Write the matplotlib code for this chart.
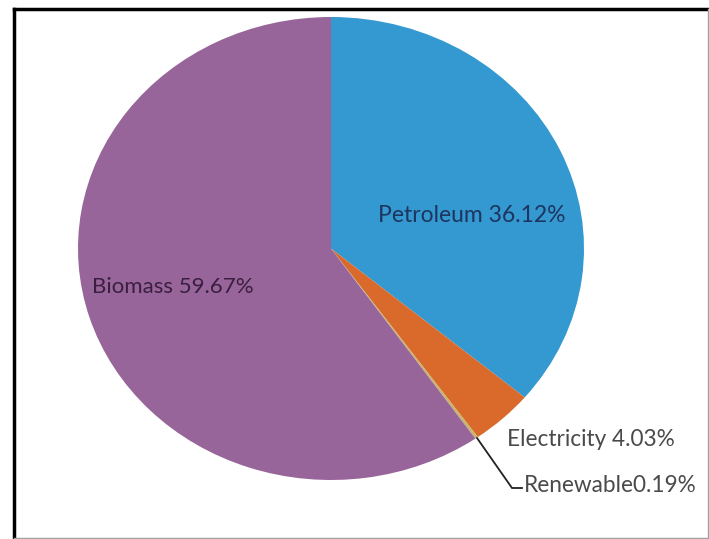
import matplotlib
matplotlib.use("Agg")
import matplotlib.pyplot as plt
from matplotlib.lines import Line2D

categories = ["Petroleum", "Electricity", "Renewable", "Biomass"]
shares = [36.12, 4.03, 0.19, 59.67]
colors = ["#3399D0", "#DA6A2C", "#C8B46A", "#976599"]

W, H = 709, 539
fig = plt.figure(figsize=(W / 100, H / 100), dpi=100)
fig.patch.set_facecolor("white")

# pie region in pixels (top-left origin)
cx, cy, rx, ry = 331, 248.5, 253, 231.5
ax = fig.add_axes([(cx - rx) / W, (H - (cy + ry)) / H, 2 * rx / W, 2 * ry / H])
ax.pie(shares, colors=colors, startangle=90, counterclock=False,
       radius=1, wedgeprops=dict(linewidth=0))
ax.set_aspect("auto")
ax.set_xlim(-1, 1)
ax.set_ylim(-1, 1)
ax.axis("off")

def d(px, py):
    return (px - cx) / rx, (cy - py) / ry

font = "Lato"
labels = [f"{c} {v:.2f}%" for c, v in zip(categories, shares)]

x, y = d(472, 216)
ax.text(x, y, labels[0], ha="center", va="center", fontsize=16.5,
        color="#1E3560", family=font, clip_on=False)
x, y = d(172.5, 287)
ax.text(x, y, labels[3], ha="center", va="center", fontsize=16,
        color="#3A1F40", family=font, clip_on=False)
x, y = d(507, 440)
ax.text(x, y, labels[1], ha="left", va="center", fontsize=16.3,
        color="#4A4A4A", family=font, clip_on=False)
x, y = d(524, 485)
ax.text(x, y, f"{categories[2]}{shares[2]:.2f}%", ha="left", va="center", fontsize=16.3,
        color="#4A4A4A", family=font, clip_on=False)

p = [d(477, 438), d(512, 488), d(522, 488)]
ax.plot([q[0] for q in p], [q[1] for q in p], color="#222222", lw=1.3,
        clip_on=False, solid_joinstyle="miter")

# frame
def fl(x0, y0, x1, y1, **kw):
    fig.add_artist(Line2D([x0 / W, x1 / W], [1 - y0 / H, 1 - y1 / H],
                          transform=fig.transFigure, **kw))

fl(13.5, 9, 707.5, 9, color="black", lw=2.5)
fl(13.5, 9, 13.5, 537.5, color="black", lw=2.5)
fl(707.5, 9, 707.5, 537.5, color="#A0A0A0", lw=1.0)
fl(13.5, 537.5, 707.5, 537.5, color="#A0A0A0", lw=1.0)

fig.savefig("out.png", dpi=100)
